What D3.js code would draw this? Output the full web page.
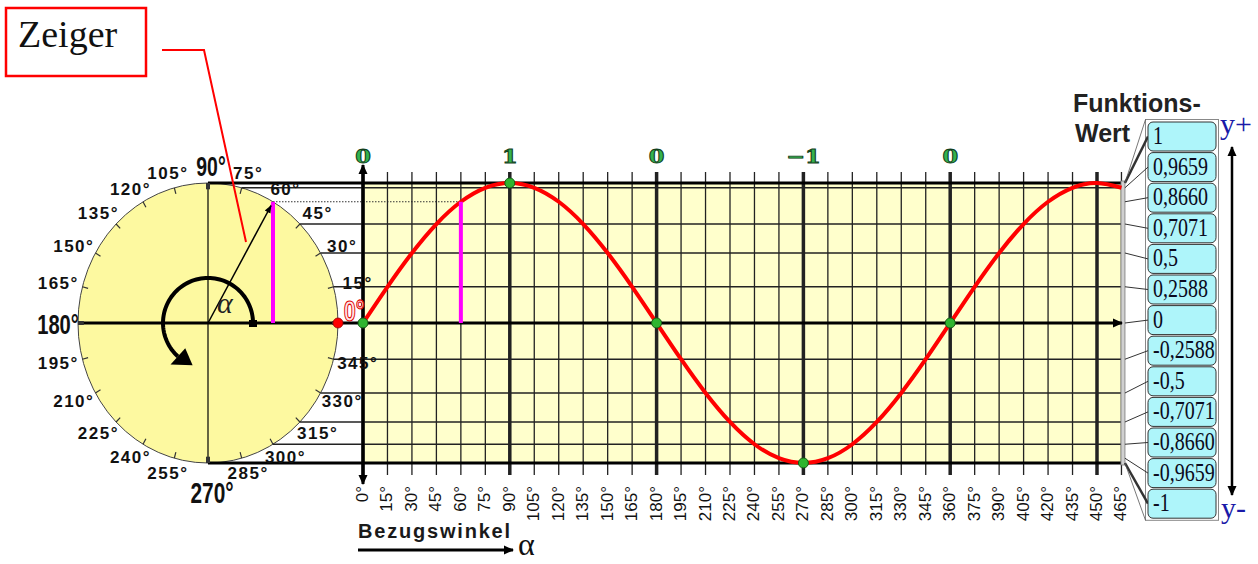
<!DOCTYPE html>
<html>
<head>
<meta charset="utf-8">
<script src="https://cdn.jsdelivr.net/npm/d3@7"></script>
<style>
  body { margin: 0; background: #fff; }
  text { font-family: "Liberation Sans", Arial, sans-serif; }
</style>
</head>
<body>
<svg id="chart" width="1258" height="564"></svg>
<script>
// angles along the x axis (degrees) and the sine values read at each of them
var angleTicks = [0, 15, 30, 45, 60, 75, 90, 105, 120, 135, 150, 165, 180, 195, 210, 225,
                  240, 255, 270, 285, 300, 315, 330, 345, 360, 375, 390, 405, 420, 435, 450, 465];
var sineValues = [0, 0.2588, 0.5, 0.7071, 0.866, 0.9659, 1, 0.9659, 0.866, 0.7071, 0.5, 0.2588,
                  0, -0.2588, -0.5, -0.7071, -0.866, -0.9659, -1, -0.9659, -0.866, -0.7071, -0.5, -0.2588,
                  0, 0.2588, 0.5, 0.7071, 0.866, 0.9659, 1, 0.9659];
var majorAngles = [0, 90, 180, 270, 360, 450];
var keyAngles = [0, 90, 180, 270, 360];
var keyLabels = ["0", "1", "0", "\u22121", "0"];
var funcValues = [1, 0.9659, 0.866, 0.7071, 0.5, 0.2588, 0, -0.2588, -0.5, -0.7071, -0.866, -0.9659, -1];
var funcLabels = ["1", "0,9659", "0,8660", "0,7071", "0,5", "0,2588", "0",
                  "-0,2588", "-0,5", "-0,7071", "-0,8660", "-0,9659", "-1"];
var circleLabels = [15, 30, 45, 60, 75, 105, 120, 135, 150, 165, 195, 210, 225, 240, 255, 285, 300, 315, 330, 345];
var levelAngles = [15, 30, 45, 75, 300, 315, 330, 345];   // horizontal projection lines
var pointerAngle = 60;

var svg = d3.select("#chart");

var x = d3.scaleLinear().domain([0, 450]).range([363, 1097]),
    y = d3.scaleLinear().domain([-1, 1]).range([463, 183]);

var cx = 208, cy = y(0), rx = 130, ry = y(0) - y(1),
    xEnd = x(465) + 0.5,
    rad = Math.PI / 180;

function onCircle(a, k) {
  k = k || 1;
  return [cx + rx * k * Math.cos(a * rad), cy - ry * k * Math.sin(a * rad)];
}

var defs = svg.append("defs");
defs.append("marker").attr("id", "arr")
    .attr("viewBox", "0 -5 10 10").attr("refX", 9).attr("refY", 0)
    .attr("markerWidth", 10).attr("markerHeight", 10).attr("markerUnits", "userSpaceOnUse")
    .attr("orient", "auto-start-reverse")
  .append("path").attr("d", "M0,-4.5L10,0L0,4.5Z").attr("fill", "#000");
defs.append("marker").attr("id", "arrSmall")
    .attr("viewBox", "0 -5 10 10").attr("refX", 9).attr("refY", 0)
    .attr("markerWidth", 8).attr("markerHeight", 8).attr("markerUnits", "userSpaceOnUse")
    .attr("orient", "auto")
  .append("path").attr("d", "M0,-4L10,0L0,4Z").attr("fill", "#000");

// plot background
svg.append("rect")
    .attr("x", x(0)).attr("y", y(1))
    .attr("width", xEnd - x(0)).attr("height", y(-1) - y(1))
    .attr("fill", "#ffffcc");

// unit circle (slightly elliptic like the original)
svg.append("ellipse")
    .attr("cx", cx).attr("cy", cy).attr("rx", rx).attr("ry", ry)
    .attr("fill", "#fdf9a0").attr("stroke", "#444").attr("stroke-width", 1);

// projection / grid lines at the sine levels
svg.selectAll("line.level")
  .data(levelAngles)
  .enter().append("line")
    .attr("class", "level")
    .attr("x1", d => onCircle(d)[0]).attr("x2", xEnd)
    .attr("y1", d => onCircle(d)[1]).attr("y2", d => onCircle(d)[1])
    .attr("stroke", "#222").attr("stroke-width", 1.3);

// dotted line for the pointer angle
var pp = onCircle(pointerAngle);
svg.append("line")
    .attr("x1", pp[0]).attr("x2", x(pointerAngle))
    .attr("y1", pp[1]).attr("y2", pp[1])
    .attr("stroke", "#333").attr("stroke-width", 1.2).attr("stroke-dasharray", "1.5,1.5");

// vertical grid + ticks
svg.selectAll("line.vgrid")
  .data(angleTicks)
  .enter().append("line")
    .attr("class", "vgrid")
    .attr("x1", d => x(d)).attr("x2", d => x(d))
    .attr("y1", y(1) - 11).attr("y2", y(-1) + 12)
    .attr("stroke", "#222")
    .attr("stroke-width", d => majorAngles.indexOf(d) >= 0 ? 3.5 : 1.3);

// top and bottom borders
[1, -1].forEach(function(v) {
  svg.append("line")
      .attr("x1", cx).attr("x2", xEnd)
      .attr("y1", y(v)).attr("y2", y(v))
      .attr("stroke", "#000").attr("stroke-width", 3);
});

// right edge bar of the plot
svg.append("rect")
    .attr("x", xEnd - 1).attr("y", y(1) - 2).attr("width", 4).attr("height", y(-1) - y(1) + 4)
    .attr("fill", "#d0d0d0").attr("stroke", "#777").attr("stroke-width", 0.8);

// circle axes
svg.append("line")
    .attr("x1", cx).attr("x2", cx).attr("y1", y(1)).attr("y2", y(-1))
    .attr("stroke", "#000").attr("stroke-width", 1.2);
svg.append("line")
    .attr("x1", cx - rx).attr("x2", xEnd)
    .attr("y1", cy).attr("y2", cy)
    .attr("stroke", "#000").attr("stroke-width", 3)
    .attr("marker-end", "url(#arr)");
svg.append("line")
    .attr("x1", x(0)).attr("x2", x(0))
    .attr("y1", 165).attr("y2", 484)
    .attr("stroke", "#000").attr("stroke-width", 3)
    .attr("marker-start", "url(#arr)").attr("marker-end", "url(#arr)");

// ticks on the circle every 15 degrees
svg.selectAll("line.ctick")
  .data(d3.range(0, 360, 15))
  .enter().append("line")
    .attr("class", "ctick")
    .attr("x1", d => onCircle(d)[0]).attr("y1", d => onCircle(d)[1])
    .attr("x2", d => onCircle(d, 0.955)[0]).attr("y2", d => onCircle(d, 0.955)[1])
    .attr("stroke", "#333").attr("stroke-width", d => d % 90 === 0 ? 4 : 1.2);

// sine curve
var line = d3.line()
    .x((d, i) => x(angleTicks[i]))
    .y(d => y(d))
    .curve(d3.curveNatural);
svg.append("path")
    .attr("d", line(sineValues))
    .attr("fill", "none").attr("stroke", "#ff0000").attr("stroke-width", 4);

// magenta projections of the pointer
var pv = sineValues[angleTicks.indexOf(pointerAngle)];
svg.append("line")
    .attr("x1", pp[0]).attr("x2", pp[0]).attr("y1", y(pv)).attr("y2", cy)
    .attr("stroke", "#ff00ff").attr("stroke-width", 4);
svg.append("line")
    .attr("x1", x(pointerAngle)).attr("x2", x(pointerAngle)).attr("y1", y(pv)).attr("y2", cy)
    .attr("stroke", "#ff00ff").attr("stroke-width", 4);

// pointer (Zeiger)
svg.append("line")
    .attr("x1", cx).attr("y1", cy).attr("x2", pp[0] - 2).attr("y2", pp[1] + 4)
    .attr("stroke", "#000").attr("stroke-width", 1.5)
    .attr("marker-end", "url(#arrSmall)");

// angle arc alpha
var arcR = 45;
var arcPts = d3.range(0, 231, 3).map(a => [cx + arcR * Math.cos(a * rad), cy - arcR * Math.sin(a * rad)]);
svg.append("path")
    .attr("d", d3.line()(arcPts))
    .attr("fill", "none").attr("stroke", "#000").attr("stroke-width", 4);
var tipA = 250, baseA = 228;
var tip = [cx + arcR * Math.cos(tipA * rad), cy - arcR * Math.sin(tipA * rad)],
    b0 = [cx + (arcR - 11) * Math.cos(baseA * rad), cy - (arcR - 11) * Math.sin(baseA * rad)],
    b1 = [cx + (arcR + 11) * Math.cos(baseA * rad), cy - (arcR + 11) * Math.sin(baseA * rad)];
svg.append("path").attr("d", "M" + [tip, b0, b1].join("L") + "Z").attr("fill", "#000");
svg.append("rect").attr("x", cx + arcR - 4).attr("y", cy - 3).attr("width", 8).attr("height", 7).attr("fill", "#000");
svg.append("text")
    .attr("x", cx + 9).attr("y", cy - 10)
    .style("font-family", "'Liberation Serif', serif").style("font-style", "italic")
    .style("font-size", "30px").attr("fill", "#222").text("\u03b1");

// dots
svg.selectAll("circle.key")
  .data(keyAngles)
  .enter().append("circle")
    .attr("class", "key")
    .attr("cx", d => x(d)).attr("cy", d => y(sineValues[angleTicks.indexOf(d)]))
    .attr("r", 5).attr("fill", "#2fb52f").attr("stroke", "#175c17").attr("stroke-width", 1);
svg.append("circle")
    .attr("cx", cx + rx).attr("cy", cy).attr("r", 5)
    .attr("fill", "#ff0000").attr("stroke", "#900").attr("stroke-width", 0.8);

// key values above the plot
svg.selectAll("text.key")
  .data(keyAngles)
  .enter().append("text")
    .attr("class", "key")
    .attr("transform", d => "translate(" + x(d) + ",163) scale(1.25,1)")
    .attr("text-anchor", "middle")
    .style("font-family", "'DejaVu Serif', serif").style("font-weight", "bold").style("font-size", "18px")
    .attr("fill", "#33b34d").attr("stroke", "#12401c").attr("stroke-width", 0.9)
    .text((d, i) => keyLabels[i]);

// angle labels around the circle
svg.selectAll("text.clabel")
  .data(circleLabels)
  .enter().append("text")
    .attr("class", "clabel")
    .attr("x", d => cx + 155 * Math.cos(d * rad))
    .attr("y", d => cy - 155 * Math.sin(d * rad) + 6)
    .attr("text-anchor", "middle")
    .style("font-size", "17px").style("font-weight", "bold").style("letter-spacing", "1.5px")
    .attr("fill", "#111")
    .text(d => d + "\u00b0");

// big quadrant labels
function bigLabel(tx, ty, str, size, fill, stroke) {
  var t = svg.append("text")
      .attr("transform", "translate(" + tx + "," + ty + ") scale(0.72,1)")
      .attr("text-anchor", "middle")
      .style("font-size", size + "px").style("font-weight", "bold")
      .attr("fill", fill).text(str);
  if (stroke) t.attr("stroke", stroke).attr("stroke-width", 1.2);
}
bigLabel(211, 176, "90\u00b0", 27, "#111");
bigLabel(58, 334, "180\u00b0", 28, "#111");
bigLabel(212, 503, "270\u00b0", 29, "#111");
bigLabel(354, 321, "0\u00b0", 30, "#ffe8e8", "#e00000");

// rotated degree labels on the x axis
svg.selectAll("text.xlab")
  .data(angleTicks)
  .enter().append("text")
    .attr("class", "xlab")
    .attr("transform", d => "translate(" + (x(d) + 5) + ",486) rotate(-90)")
    .attr("text-anchor", "end")
    .style("font-size", "17px").attr("fill", "#111")
    .text(d => d + "\u00b0");

// x axis caption
svg.append("text")
    .attr("x", 358).attr("y", 538)
    .style("font-size", "20px").style("font-weight", "bold").style("letter-spacing", "1.8px")
    .attr("fill", "#1a1a1a").text("Bezugswinkel");
svg.append("line")
    .attr("x1", 358).attr("x2", 513).attr("y1", 550).attr("y2", 550)
    .attr("stroke", "#000").attr("stroke-width", 3)
    .attr("marker-end", "url(#arr)");
svg.append("text")
    .attr("x", 518).attr("y", 555)
    .style("font-family", "'Liberation Serif', serif").style("font-size", "32px")
    .attr("fill", "#111").text("\u03b1");

// function value panel
var boxX = 1148, boxW = 68, boxTop = 122, boxStep = 30.6, boxH = 29;
svg.append("text").attr("x", 1073).attr("y", 112)
    .style("font-size", "25px").style("font-weight", "bold").attr("fill", "#222").text("Funktions-");
svg.append("text").attr("x", 1075).attr("y", 142)
    .style("font-size", "25px").style("font-weight", "bold").attr("fill", "#222").text("Wert");

svg.append("rect")
    .attr("x", boxX - 2.5).attr("y", boxTop - 2.5)
    .attr("width", boxW + 5).attr("height", boxStep * funcValues.length + 3)
    .attr("fill", "#fff").attr("stroke", "#888").attr("stroke-width", 1);

// connector lines from the plot edge to the boxes
svg.selectAll("line.conn")
  .data(funcValues)
  .enter().append("line")
    .attr("class", "conn")
    .attr("x1", xEnd + 3).attr("y1", d => y(d))
    .attr("x2", boxX).attr("y2", (d, i) => boxTop + i * boxStep + boxH / 2)
    .attr("stroke", "#333")
    .attr("stroke-width", d => Math.abs(d) === 1 ? 2.5 : 1);
svg.append("line").attr("x1", xEnd + 3).attr("y1", y(1)).attr("x2", boxX - 2.5).attr("y2", boxTop - 2.5)
    .attr("stroke", "#555").attr("stroke-width", 0.8);
svg.append("line").attr("x1", xEnd + 3).attr("y1", y(-1)).attr("x2", boxX - 2.5)
    .attr("y2", boxTop + boxStep * funcValues.length + 0.5)
    .attr("stroke", "#555").attr("stroke-width", 0.8);

var boxes = svg.selectAll("g.fbox")
  .data(funcLabels)
  .enter().append("g")
    .attr("class", "fbox")
    .attr("transform", (d, i) => "translate(" + boxX + "," + (boxTop + i * boxStep) + ")");
boxes.append("rect")
    .attr("width", boxW).attr("height", boxH).attr("rx", 5)
    .attr("fill", "#aef5fa").attr("stroke", "#333").attr("stroke-width", 1);
boxes.append("text")
    .attr("transform", "translate(5,22) scale(0.8,1)")
    .style("font-family", "'Liberation Serif', serif").style("font-size", "25px")
    .attr("fill", "#0a0a20").text(d => d);

// y+ / y- arrow
svg.append("line")
    .attr("x1", 1232).attr("x2", 1232).attr("y1", 147).attr("y2", 495)
    .attr("stroke", "#000").attr("stroke-width", 2.5)
    .attr("marker-start", "url(#arr)").attr("marker-end", "url(#arr)");
svg.append("text").attr("x", 1220).attr("y", 134)
    .style("font-family", "'Liberation Serif', serif").style("font-size", "30px")
    .attr("fill", "#1a1aa8").text("y+");
svg.append("text").attr("x", 1221).attr("y", 518)
    .style("font-family", "'Liberation Serif', serif").style("font-size", "30px")
    .attr("fill", "#1a1aa8").text("y-");

// "Zeiger" callout
svg.append("rect")
    .attr("x", 6).attr("y", 8).attr("width", 140).attr("height", 68)
    .attr("fill", "#fff").attr("stroke", "#ff0000").attr("stroke-width", 2.5);
svg.append("text")
    .attr("x", 18).attr("y", 47)
    .style("font-family", "'Liberation Serif', serif").style("font-size", "38px")
    .attr("fill", "#111").text("Zeiger");
svg.append("path")
    .attr("d", "M162,50L204,50L246,242")
    .attr("fill", "none").attr("stroke", "#ff0000").attr("stroke-width", 2);
</script>
</body>
</html>
